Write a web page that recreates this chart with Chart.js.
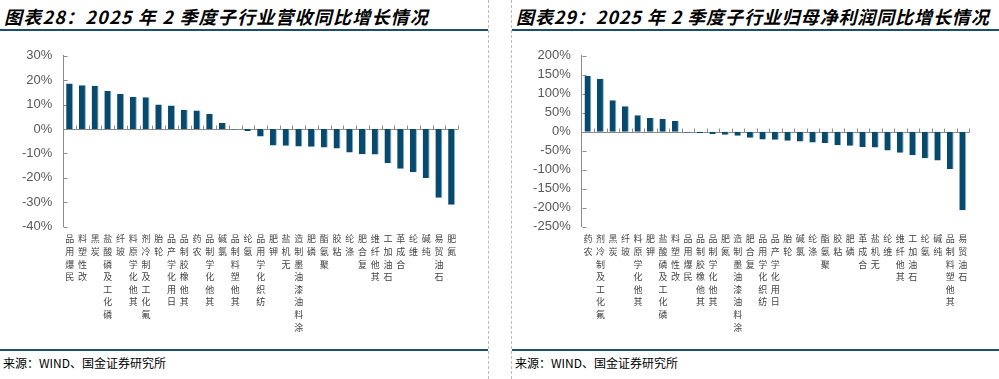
<!DOCTYPE html>
<html><head><meta charset="utf-8">
<script src="https://cdn.jsdelivr.net/npm/chart.js@4.4.0/dist/chart.umd.min.js"></script>
<style>
html,body{margin:0;padding:0;background:#fff;}
#wrap{position:relative;width:999px;height:379px;overflow:hidden;background:#fff;}
.title{position:absolute;top:5px;font:italic bold 18px "Noto Sans CJK SC",sans-serif;letter-spacing:1.2px;color:#000;white-space:nowrap;line-height:22px;}
.hline{position:absolute;height:2px;background:#1a4f6e;}
.vdash{position:absolute;top:0;height:379px;width:0;border-left:1px dashed #bdbdbd;}
.src{position:absolute;top:355px;font:12px "Noto Sans CJK SC",sans-serif;color:#000;white-space:nowrap;line-height:16px;}
canvas{position:absolute;}
</style></head>
<body><div id="wrap">
<div class="title" style="left:4px">图表28：2025 年 2 季度子行业营收同比增长情况</div>
<div class="title" style="left:516px;letter-spacing:0.9px">图表29：2025 年 2 季度子行业归母净利润同比增长情况</div>
<div class="hline" style="left:0;width:488px;top:29px"></div>
<div class="hline" style="left:512px;width:487px;top:29px"></div>
<div class="hline" style="left:0;width:488px;top:349px"></div>
<div class="hline" style="left:512px;width:487px;top:349px"></div>
<div class="vdash" style="left:488px"></div>
<div class="vdash" style="left:511px"></div>
<div class="src" style="left:3px">来源：WIND、国金证券研究所</div>
<div class="src" style="left:515px">来源：WIND、国金证券研究所</div>
<canvas id="c1" width="488" height="310" style="left:0;top:36px;width:488px;height:310px"></canvas>
<canvas id="c2" width="499" height="310" style="left:500px;top:36px;width:499px;height:310px"></canvas>
</div>
<script>
// ---- Chart 1: revenue YoY (%) ----
const revCategories = ['民爆用品','改性塑料','炭黑','磷化工及磷酸盐','玻纤','其他化学原料','氟化工及制冷剂','轮胎','日用化学产品','其他橡胶制品','农药','其他化学制品','氯碱','其他塑料制品','氨纶','纺织化学用品','钾肥','无机盐','涂料油漆油墨制造','磷肥','聚氨酯','粘胶','涤纶','复合肥','其他纤维','石油加工','合成革','维纶','纯碱','石油贸易','氮肥'];
const revValues = [18.6,17.9,17.7,15.6,14.3,13.2,13.0,10.0,9.6,7.8,7.6,6.1,2.4,-0.2,-0.8,-3.1,-6.8,-6.9,-7.2,-7.3,-7.6,-8.0,-9.6,-10.3,-10.4,-14.0,-16.3,-17.7,-20.1,-28.1,-31.0];
const revTicks = [30,20,10,0,-10,-20,-30,-40];

// ---- Chart 2: net profit attributable YoY (%) ----
const profitCategories = ['农药','氟化工及制冷剂','炭黑','玻纤','其他化学原料','钾肥','磷化工及磷酸盐','改性塑料','民爆用品','其他橡胶制品','其他化学制品','氮肥','涂料油漆油墨制造','复合肥','纺织化学用品','日用化学产品','轮胎','氯碱','涤纶','聚氨酯','粘胶','磷肥','合成革','无机盐','维纶','其他纤维','石油加工','氨纶','纯碱','其他塑料制品','石油贸易'];
const profitValues = [146.5,139.5,82.5,66.7,43,36,33.3,29,-2,-4,-6,-8,-10.5,-16,-20.6,-21.5,-24,-26,-28.5,-30,-35.5,-37,-40,-41.7,-49.6,-55.7,-62,-70,-76,-98,-207];
const profitTicks = [200,150,100,50,0,-50,-100,-150,-200,-250];

const BAR = '#074a6d';
const AXIS = '#8a8a8a';

const decor = {
  id: 'decor',
  beforeDatasetsDraw(chart) {
    const {ctx, chartArea: a, scales: {x, y}} = chart;
    ctx.save();
    ctx.strokeStyle = AXIS;
    ctx.lineWidth = 1;
    ctx.beginPath();
    const y0 = Math.round(y.getPixelForValue(0)) + 0.5;
    ctx.moveTo(a.left, y0); ctx.lineTo(a.right, y0);
    const n = x.ticks.length;
    for (let i = 1; i <= n; i++) {
      let px;
      if (i === n) px = a.right;
      else px = (x.getPixelForTick(i - 1) + x.getPixelForTick(i)) / 2;
      px = Math.round(px) + 0.5;
      ctx.moveTo(px, y0); ctx.lineTo(px, y0 - 4);
    }
    const ax = Math.round(a.left) + 0.5;
    y.ticks.forEach(t => {
      const py = Math.round(y.getPixelForValue(t.value)) + 0.5;
      ctx.moveTo(ax, py); ctx.lineTo(ax + 4, py);
    });
    ctx.stroke();
    ctx.restore();
  }
};

function makeChart(id, cats, vals, ticks, axisW, areaTop, areaBottom, rightPad) {
  const canvas = document.getElementById(id);
  const H = canvas.height;
  const labels = cats.map(s => Array.from(s).reverse());
  return new Chart(canvas, {
    type: 'bar',
    data: {
      labels: labels,
      datasets: [{
        data: vals,
        backgroundColor: BAR,
        borderColor: '#8fb3c9',
        borderWidth: {top: 0, left: 0, bottom: 0, right: 1},
        borderSkipped: false,
        barPercentage: 1,
        categoryPercentage: 0.55
      }]
    },
    options: {
      responsive: false,
      animation: false,
      devicePixelRatio: 1,
      layout: {padding: {top: areaTop, right: rightPad, left: 0, bottom: 0}},
      plugins: {legend: {display: false}, tooltip: {enabled: false}, title: {display: false}},
      scales: {
        x: {
          grid: {display: false, drawTicks: false},
          border: {display: false},
          ticks: {
            autoSkip: false, maxRotation: 0, minRotation: 0, padding: 6,
            color: '#444444',
            font: {family: '"Noto Sans CJK SC", sans-serif', size: 9, lineHeight: 1.4}
          },
          afterFit(s) { s.height = H - areaBottom; }
        },
        y: {
          min: Math.min(...ticks), max: Math.max(...ticks),
          grid: {display: false, drawTicks: false},
          border: {display: true, color: AXIS, width: 1},
          ticks: {
            stepSize: ticks[0] - ticks[1], padding: 11,
            color: '#595959',
            font: {family: '"Liberation Sans", Arial, sans-serif', size: 13},
            callback: v => v + '%'
          },
          afterFit(s) { s.width = axisW; }
        }
      }
    },
    plugins: [decor]
  });
}

makeChart('c1', revCategories, revValues, revTicks, 63.3, 19.7, 190.7, 30);
makeChart('c2', profitCategories, profitValues, profitTicks, 81.7, 19.7, 190.7, 30);
</script>
</body></html>
